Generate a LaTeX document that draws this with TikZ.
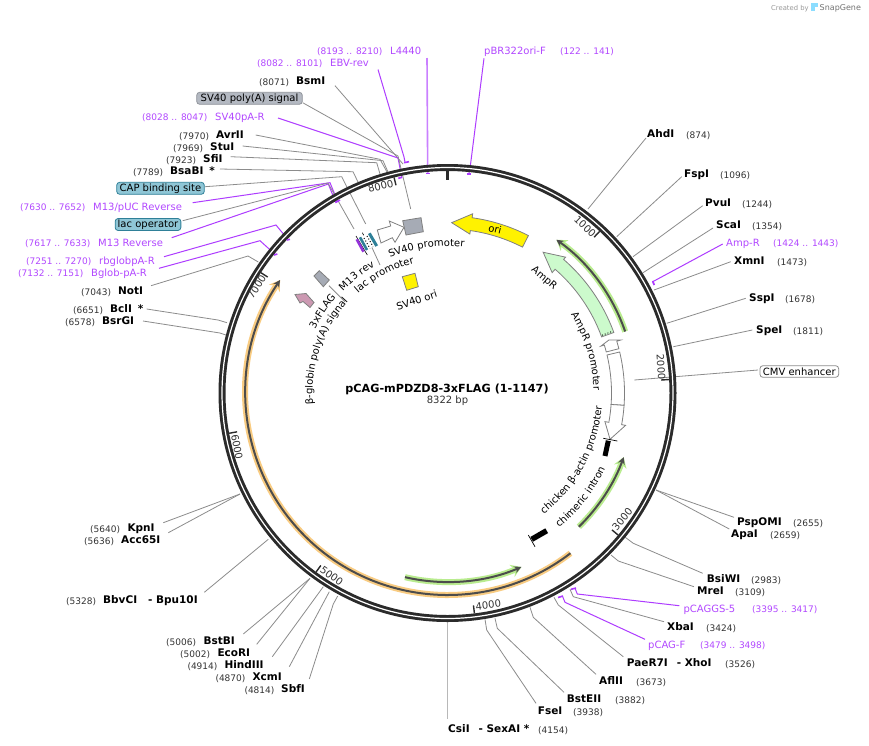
\documentclass[tikz,border=0pt]{standalone}
\usepackage{fontspec}
\setmainfont{DejaVu Sans}
\usetikzlibrary{arrows.meta,decorations.text}
\definecolor{ringc}{HTML}{2B2B2B}
\definecolor{cutc}{HTML}{8C8C8C}
\definecolor{primc}{HTML}{AE3CFF}
\definecolor{primt}{HTML}{B248FF}
\definecolor{posc}{HTML}{333333}
\definecolor{edgec}{HTML}{808080}
\definecolor{feagray}{HTML}{A6ABB5}
\definecolor{tealc}{HTML}{2F8098}
\definecolor{boxblue}{HTML}{8FC6D6}
\definecolor{boxgray}{HTML}{B4B9C2}
\definecolor{ampc}{HTML}{CCFACC}
\definecolor{pinkc}{HTML}{CC99B2}
\definecolor{glowg}{HTML}{B9EC8F}
\definecolor{glowo}{HTML}{F9CC82}
\newcommand\namef{\fontsize{10.5}{12}\selectfont\bfseries}
\newcommand\posf{\fontsize{9}{11}\selectfont}
\newcommand\lblf{\fontsize{10}{12}\selectfont}
\tikzset{
  cutline/.style={draw=cutc,line width=0.8pt},
  primline/.style={draw=primc,line width=1pt},
  primtick/.style={draw=primc,line width=1.6pt},
  sitename/.style={anchor=mid west,inner sep=0pt,yshift=-1.3pt,font=\namef,text=black},
  sitepos/.style={anchor=mid west,inner sep=0pt,yshift=-1.3pt,font=\posf,text=posc},
  primname/.style={anchor=mid west,inner sep=0pt,yshift=-1.3pt,font=\lblf,text=primt},
  primpos/.style={anchor=mid west,inner sep=0pt,yshift=-1.3pt,font=\posf,text=primt},
  flagbox/.style={rounded corners=3pt,inner sep=0pt,font=\lblf,line width=0.8pt},
  ringnum/.style={inner sep=0pt,font=\lblf,text=posc},
  flab/.style={inner sep=0pt,font=\lblf,text=black},
  fea/.style={draw=edgec,line width=0.8pt},
}
% restriction site / primer labels
\newcommand\Rsite[6]{\node[sitename] (#1) at (#2,#3) {#4}; \node[sitepos] (#1-p) at (#5,#3+0.7) {#6};}
\newcommand\Prim[6]{\node[primname] (#1) at (#2,#3) {#4}; \node[primpos] (#1-p) at (#5,#3+0.7) {#6};}
% leaders built from named coordinates
\newcommand\LeadC[5][cutline]{\coordinate (#2-s) at #3; \coordinate (#2-k) at #4; \coordinate (#2-e) at #5; \draw[#1] (#2-s) -- (#2-k) -- (#2-e);}
\newcommand\LeadB[4][cutline]{\coordinate (#2-s) at #3; \coordinate (#2-e) at #4; \draw[#1] (#2-s) -- (#2-e);}
\newcommand\PTick[3]{\coordinate (#1-a) at #2; \coordinate (#1-b) at #3; \draw[primtick] (#1-a) -- (#1-b);}
% polar helpers (theta clockwise from top)
\newcommand\ArrowFea[9]{\draw[fea,#1] ({90-#2}:#6) arc[start angle={90-#2},end angle={90-#3},radius=#6] -- ({90-#3}:#8) -- ({90-#4}:#9) -- ({90-#3}:#7) -- ({90-#3}:#5) arc[start angle={90-#3},end angle={90-#2},radius=#5] -- cycle;}
\newcommand\BoxFea[5]{\draw[fea,#1] ({90-#2}:#5) arc[start angle={90-#2},end angle={90-#3},radius=#5] -- ({90-#3}:#4) arc[start angle={90-#3},end angle={90-#2},radius=#4] -- cycle;}
\newcommand\GlowArc[5]{%
  \draw[#1,line width=6pt,-{Stealth[length=10pt,width=13pt]}] ({90-#2}:#4) arc[start angle={90-#2},end angle={90-#3},radius=#4];
  \draw[#5,line width=2pt,-{Stealth[length=7pt,width=7pt]}] ({90-#2}:#4) arc[start angle={90-#2},end angle={90-#3},radius=#4];}
\newcommand\ArcText[4]{\path[decorate,decoration={text along path,text align=center,text={|\lblf|#4}}] ({90-#2}:#1) arc[start angle={90-#2},end angle={90-#3},radius=#1];}
\begin{document}
\begin{tikzpicture}[x=1pt,y=-1pt]
\useasboundingbox (0,0) rectangle (869,745);
\fill[white] (0,0) rectangle (869,745);
\coordinate (C) at (447.5,393);

% ---- leaders (under the ring)
\LeadC[primline]{ebv}{(378,69.5)}{(404,157)}{(405,162)}
\LeadB[draw=primc!65,line width=1.6pt]{l44}{(427,58)}{(427.7,173)}
\LeadC[primline]{pbr}{(484,58.3)}{(470.7,163)}{(469,173)}
\LeadB{bsm}{(335,85.7)}{(403,164)}
\LeadC[primline]{spa}{(278,118)}{(398,158)}{(401.7,177)}
\LeadC{avr}{(255.7,135)}{(380,159.3)}{(387,172)}
\LeadC{stu}{(242.7,146)}{(383,160.7)}{(388,172)}
\LeadC{sfi}{(230.7,156.7)}{(376.7,162.7)}{(380,174)}
\LeadC{bsa}{(220,169)}{(353,171.7)}{(358,182)}
\LeadC[primline]{m13p}{(192.7,202.7)}{(330,182.7)}{(337.5,201)}
\LeadC[primline]{m13r}{(171.7,237.7)}{(328.3,184)}{(336,203)}
\LeadC[primline]{rbg}{(164,256.7)}{(276,225)}{(288.3,240)}
\LeadC[primline]{bgl}{(159,268.3)}{(260,240.7)}{(275,254.3)}
\LeadC{not}{(151,285.7)}{(248,256)}{(258.3,262)}
\LeadC{bcl}{(146.7,309)}{(218,320)}{(227,322.7)}
\LeadC{bsr}{(143,321)}{(220,333)}{(226,335)}
\LeadB{ahd}{(646,138)}{(588,209)}
\LeadB{fsp}{(681.7,176.7)}{(616.7,236.7)}
\LeadB{pvu}{(702.7,205.7)}{(633,256.7)}
\LeadB{sca}{(713,228)}{(643,272.7)}
\LeadC[primline]{amp}{(722.7,244)}{(652.7,281.7)}{(654,285)}
\LeadB{xmn}{(730.7,261.7)}{(654,290)}
\LeadB{ssp}{(745.7,298.3)}{(666.7,323.3)}
\LeadB{spe}{(752.3,330)}{(673.3,346.7)}
\LeadB{psp}{(734,517.3)}{(656,490)}
\LeadB{apa}{(729.3,529)}{(656,490)}
\LeadC{bsi}{(702.7,573.3)}{(633.3,543.3)}{(625.3,537.3)}
\LeadC{mre}{(694,586.7)}{(618.3,561)}{(611,555)}
\LeadC[primline]{pcg}{(679.3,605.7)}{(577.3,594)}{(575,588.3)}
\LeadC{xba}{(664,621.7)}{(573.3,596.7)}{(570,589.3)}
\LeadC[primline]{pcf}{(645,639.3)}{(565,602.3)}{(562.7,596.7)}
\LeadC{pae}{(623.3,656.7)}{(558.3,605)}{(554,597.3)}
\LeadC{afl}{(596,674.3)}{(533.3,617.3)}{(530,607.3)}
\LeadC{bste}{(564,692.3)}{(497.3,628.3)}{(495,618.3)}
\LeadC{fse}{(536,703.3)}{(486.7,630)}{(485,619.3)}
\LeadB[draw=black!28,line width=1.5pt]{csi}{(447.5,622)}{(447.5,718.5)}
\LeadB{kpn}{(163.3,522.7)}{(240,494)}
\LeadB{acc}{(168.3,532.7)}{(240,494)}
\LeadB{bbv}{(204.3,592.3)}{(268.3,539.3)}
\LeadB{bstb}{(243.3,634)}{(310,578.3)}
\LeadB{eco}{(256.7,644.3)}{(310,578.3)}
\LeadB{hin}{(272.3,656.7)}{(323.3,586.7)}
\LeadB{xcm}{(289.3,666.7)}{(329.3,591.7)}
\LeadC{sbf}{(309.3,679)}{(333.3,604)}{(337.7,596)}
% leaders of feature flags
\LeadC{sv40pa}{(302.7,102.7)}{(398,156)}{(410.7,209)}
\LeadC{capl}{(205,186.7)}{(341.7,176.7)}{(365.7,224)}
\LeadC{lacl}{(182.7,220.7)}{(328,183)}{(354,229)}
\LeadB{cmvl}{(758,370)}{(634.3,380)}
\LeadB{lacp}{(370,243.3)}{(380,265)}
\LeadB{flagl}{(329,285.7)}{(345,301.7)}

% ---- flags
\node[flagbox,draw=boxgray!80!black,fill=boxgray,minimum width=105.6pt,minimum height=12pt] (fSVpA) at (249.5,98.3) {SV40 poly(A) signal};
\node[flagbox,draw=tealc,fill=boxblue,minimum width=87.6pt,minimum height=12pt] (fCAP) at (160.5,188.3) {CAP binding site};
\node[flagbox,draw=tealc,fill=boxblue,minimum width=65.7pt,minimum height=12pt] (fLac) at (148,224.5) {lac operator};
\node[flagbox,draw=black!45,fill=white,minimum width=78.7pt,minimum height=11.6pt] (fCMV) at (799.3,371.5) {CMV enhancer};

% ---- sites
\Prim{nL44}{390}{50}{L4440}{317}{(8193 .. 8210)}
\Prim{nEBV}{330}{62}{EBV-rev}{257}{(8082 .. 8101)}
\Rsite{nBsm}{296}{80.5}{BsmI}{259}{(8071)}
\Prim{nSpa}{215}{116}{SV40pA-R}{142}{(8028 .. 8047)}
\Rsite{nAvr}{216}{134.5}{AvrII}{179}{(7970)}
\Rsite{nStu}{210}{146.5}{StuI}{173}{(7969)}
\Rsite{nSfi}{203}{158.5}{SfiI}{166}{(7923)}
\Rsite{nBsa}{170}{170.5}{BsaBI\hspace{6pt}*}{133}{(7789)}
\Prim{nM1p}{93}{206}{M13/pUC Reverse}{20}{(7630 .. 7652)}
\Prim{nM1r}{98}{242}{M13 Reverse}{25}{(7617 .. 7633)}
\Prim{nRbg}{99}{260}{rbglobpA-R}{26}{(7251 .. 7270)}
\Prim{nBgl}{91}{272}{Bglob-pA-R}{18}{(7132 .. 7151)}
\Rsite{nNot}{118}{290.5}{NotI}{81}{(7043)}
\Rsite{nBcl}{110}{308.5}{BclI\hspace{6pt}*}{73}{(6651)}
\Rsite{nBsr}{102}{320.5}{BsrGI}{65}{(6578)}
\Prim{nPbr}{484}{50}{pBR322ori-F}{560}{(122 .. 141)}
\Rsite{nAhd}{647}{133.5}{AhdI}{686}{(874)}
\Rsite{nFsp}{684}{173.5}{FspI}{720}{(1096)}
\Rsite{nPvu}{705}{202.5}{PvuI}{742}{(1244)}
\Rsite{nSca}{716}{224.5}{ScaI}{752}{(1354)}
\Prim{nAmp}{726}{242}{Amp-R}{773}{(1424 .. 1443)}
\Rsite{nXmn}{734}{260.5}{XmnI}{777}{(1473)}
\Rsite{nSsp}{749}{297.5}{SspI}{785}{(1678)}
\Rsite{nSpe}{756}{329.5}{SpeI}{793}{(1811)}
\Rsite{nPsp}{737}{521.5}{PspOMI}{793}{(2655)}
\Rsite{nApa}{731}{533.5}{ApaI}{770}{(2659)}
\Rsite{nBsi}{706.7}{578.5}{BsiWI}{751}{(2983)}
\Rsite{nMre}{697}{590.5}{MreI}{735}{(3109)}
\Prim{nPcg}{683.3}{608}{pCAGGS-5}{752}{(3395 .. 3417)}
\Rsite{nXba}{667}{626.5}{XbaI}{706}{(3424)}
\Prim{nPcf}{648}{644}{pCAG-F}{700}{(3479 .. 3498)}
\Rsite{nPae}{626.7}{662.5}{PaeR7I\hspace{9pt}- XhoI}{725}{(3526)}
\Rsite{nAfl}{599}{680.5}{AflII}{636}{(3673)}
\Rsite{nBste}{566.7}{698.5}{BstEII}{615}{(3882)}
\Rsite{nFse}{537.7}{710.5}{FseI}{573}{(3938)}
\Rsite{nCsi}{448}{728.5}{CsiI\hspace{9pt}- SexAI *}{538}{(4154)}
\Rsite{nKpn}{127.3}{527.5}{KpnI}{90}{(5640)}
\Rsite{nAcc}{121}{539.5}{Acc65I}{84}{(5636)}
\Rsite{nBbv}{103}{599.5}{BbvCI\hspace{11pt}- Bpu10I}{66}{(5328)}
\Rsite{nBstb}{203.3}{640.5}{BstBI}{166}{(5006)}
\Rsite{nEco}{217.3}{652.5}{EcoRI}{180}{(5002)}
\Rsite{nHin}{224.3}{664.5}{HindIII}{187.3}{(4914)}
\Rsite{nXcm}{252.3}{676.5}{XcmI}{215.3}{(4870)}
\Rsite{nSbf}{281}{688.5}{SbfI}{244.3}{(4814)}

% ---- polar part
\begin{scope}[shift={(447.5,393)},y=1pt]
  % arcs with glow
  \GlowArc{glowg}{70.9}{35.4}{188}{black!70}
  \GlowArc{glowg}{135.5}{110}{187.5}{black!70}
  \GlowArc{glowg}{193}{157}{189}{black!70}
  \GlowArc{glowo}{142.5}{304}{202}{black!70}
  % features
  \ArrowFea{fill=yellow}{27.2}{8}{1.4}{164}{177}{160.5}{181}{170.4}
  \ArrowFea{fill=ampc}{70}{41}{34.2}{164}{177}{159.5}{180}{170.2}
  \ArrowFea{fill=white}{75.5}{73}{71.8}{164}{177}{160.4}{181}{170}
  \BoxFea{fill=white}{76.6}{94}{164}{177}
  \ArrowFea{fill=white}{94}{100.3}{105.9}{164}{177}{160}{181}{169}
  \draw[black,line width=0.9pt,dotted] (20.5:165) -- (20.5:176);
  % ring
  \draw[ringc,line width=7pt] (0,0) circle[radius=225.5];
  \draw[white,line width=1.2pt] (0,0) circle[radius=225.5];
  % ring ticks
  \draw[ringc,line width=2.6pt] (90:222) -- (90:213);
  \foreach \t in {1000,2000,...,8000}{
    \pgfmathsetmacro\a{90-\t/8322*360}
    \draw[ringc,line width=1.4pt] (\a:222) -- (\a:214);
  }
  % curved labels
  \ArcText{146}{56}{90.5}{AmpR promoter}
  \ArcText{155}{143.5}{93}{chicken β-actin promoter}
  \ArcText{175}{141.2}{114.8}{chimeric intron}
  \ArcText{147}{-23.5}{7}{SV40 promoter}
  \ArcText{134}{-42}{-14.2}{lac promoter}
  \ArcText{146}{-45.3}{-30.3}{M13 rev}
  \ArcText{147}{-64.3}{-49.2}{3xFLAG}
  \ArcText{135}{-95.6}{-46.8}{β-globin poly(A) signal}
\end{scope}
\node[ringnum,rotate=-43.3] (t1) at (585,226.7) {1000};
\node[ringnum,rotate=-86.5] (t2) at (661,367) {2000};
\node[ringnum,rotate=50.2] (t3) at (622.3,519) {3000};
\node[ringnum,rotate=7] (t4) at (488.3,605) {4000};
\node[ringnum,rotate=-36.3] (t5) at (331.7,576) {5000};
\node[ringnum,rotate=-79.6] (t6) at (237,447) {6000};
\node[ringnum,rotate=57.2] (t7) at (256.7,286.7) {7000};
\node[ringnum,rotate=14] (t8) at (380.7,186) {8000};
\node[flab,rotate=-40] (lAmpR) at (544,278.3) {AmpR};
\node[flab,rotate=18] (lSVori) at (416.7,300) {SV40 ori};
\node[flab,rotate=-13] (lori) at (495,229.3) {ori};

% ---- small features
\draw[fea,fill=feagray] (402.7,220.7) -- (421,217.7) -- (423.3,231.7) -- (406,235) -- cycle;
\draw[fea,fill=white] (377.3,230) -- (390.7,226) -- (389.3,221) -- (404,227.3) -- (395,242.3) -- (392.3,237.7) -- (381,243) -- cycle;
\draw[fea,fill=yellow] (402.3,276.7) -- (415,273.3) -- (418.3,286.7) -- (406.7,290.3) -- cycle;
\draw[fea,fill=feagray] (314,276) -- (319.3,270.7) -- (329.3,280) -- (323.3,286.7) -- cycle;
\draw[fea,fill=pinkc] (295,294.5) -- (306,293.5) -- (314,302.5) -- (310,307.5) -- (303,301.5) -- (300,303) -- cycle;
% lac / M13 cluster
\draw[black,line width=0.6pt] (356,236) -- (367.3,255);
\draw[black,line width=0.6pt] (362.3,232.7) -- (369.3,245);
\draw[draw=primc!85!black,line width=2.6pt] (356.7,239.3) -- (363.5,251.7);
\draw[draw=tealc,line width=2.6pt] (360,237.3) -- (367,250);
\fill[white] (362.5,236) -- (369.5,232.5) -- (376,245) -- (369,249) -- cycle;
\draw[black,line width=1pt,dotted] (364,238) -- (370,248.5);
\draw[black,line width=1pt,dotted] (367,236) -- (373,246.5);
\draw[draw=tealc,line width=3pt] (369.3,233.3) -- (376.7,246);
% black bars
\draw[black,line width=5pt] (608.3,440.7) -- (605,456);
\draw[black,line width=0.7pt] (603.3,438.3) -- (617.3,441);
\draw[black,line width=5.5pt] (531.7,539.3) -- (546.7,530.7);
\draw[black,line width=0.7pt] (528.3,535) -- (535,546.7);

% primer ticks
\PTick{k1}{(467,174)}{(471,174)}
\PTick{k2}{(426,173.5)}{(429.5,173.5)}
\PTick{k3}{(404,162.7)}{(409,161.7)}
\PTick{k4}{(398.3,178.3)}{(402.3,177.3)}
\PTick{k5}{(335.7,202.3)}{(340,200)}
\PTick{k6}{(286.7,240)}{(290,239.3)}
\PTick{k7}{(274,255)}{(277.3,254)}
\PTick{k8}{(652.7,281)}{(654.3,285)}
\PTick{k9}{(571,589.3)}{(576,588)}
\PTick{k10}{(558,597.5)}{(563,596)}

% ---- title
\node[inner sep=0pt,font=\fontsize{11.2}{13}\selectfont\bfseries] (title) at (447,389) {pCAG-mPDZD8-3xFLAG (1-1147)};
\node[inner sep=0pt,font=\lblf,text=posc] (size) at (447.5,401) {8322 bp};
% ---- logo
\node[anchor=mid west,inner sep=0pt,font=\fontsize{6.8}{8}\selectfont,text=black!40] (logo1) at (771,8) {Created by};
\fill[blue!30!cyan!45] (811,3) rectangle (814.5,11);
\fill[blue!30!cyan!45] (814.5,3) rectangle (818,6.5);
\node[anchor=mid west,inner sep=0pt,font=\fontsize{8}{9}\selectfont,text=black!55] (logo2) at (819.5,8) {SnapGene};
\end{tikzpicture}
\end{document}
